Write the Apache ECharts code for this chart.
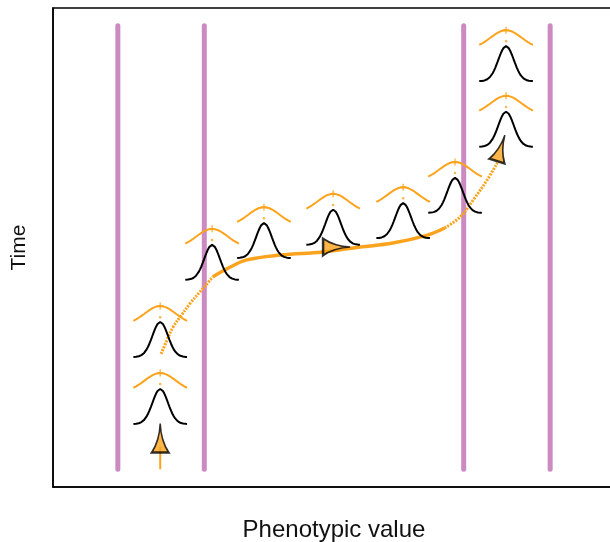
<!DOCTYPE html>
<html lang="en">
<head>
<meta charset="utf-8">
<title>Phenotype trajectory</title>
<script src="https://cdn.jsdelivr.net/npm/echarts@6/dist/echarts.min.js"></script>
<style>
  html, body { margin: 0; padding: 0; background: #fff; }
  #chart { width: 610px; height: 542px; }
</style>
</head>
<body>
<div id="chart"></div>
<script>
// fitness boundaries (purple) and their time span
var boundaryX = [1, 2, 5, 6];
var boundaryT = [0, 100];

// population snapshots: mean phenotype and time of each distribution
var popMean = [1.49, 1.49, 2.09, 2.69, 3.49, 4.30, 4.90, 5.49, 5.49];
var popTime = [10.2, 25.3, 42.7, 47.6, 50.6, 52.1, 57.8, 72.7, 87.5];

// trajectory of the mean (orange path)
var trajX = [1.50, 1.57, 1.64, 1.72, 1.84, 1.95, 2.10, 2.30, 2.49, 2.88, 3.37, 3.80, 4.18, 4.58, 4.78, 4.96, 5.11, 5.27, 5.39];
var trajT = [26.0, 29.2, 32.1, 34.3, 37.5, 40.0, 43.4, 45.6, 47.2, 48.3, 49.0, 50.1, 51.0, 52.8, 54.4, 56.9, 60.7, 65.2, 69.1];

// starting stalk under the first arrow
var stalkX = [1.49, 1.49];
var stalkT = [0, 5];

// arrow heads: centre, rotation (deg), size
var arrowX = [1.49, 3.53, 5.43];
var arrowT = [7.05, 50.1, 72.4];
var arrowAngle = [0, -90, -17];
var arrowSize = [[17, 29], [17, 27], [16, 27]];

var ORANGE = '#FBA31C';
var PURPLE = '#CC8AC3';

var SD = 0.09, HALF = 0.31, PEAK = 7.9;          // density curve
var FIT_SD = 0.18, FIT_BASE = 7.2, FIT_AMP = 4.3; // fitness arc
var DOT_UP = 9.0;

function curve(mu, t0, sd, base, amp) {
  var pts = [];
  for (var i = 0; i <= 40; i++) {
    var x = mu - HALF + 2 * HALF * i / 40;
    pts.push([x, t0 + base + amp * Math.exp(-(x - mu) * (x - mu) / (2 * sd * sd))]);
  }
  return pts;
}

var series = [];

boundaryX.forEach(function (bx) {
  series.push({
    type: 'line', data: [[bx, boundaryT[0]], [bx, boundaryT[1]]],
    symbol: 'none', silent: true, z: 1,
    lineStyle: { color: PURPLE, width: 5, cap: 'round' }
  });
});

popMean.forEach(function (mu, i) {
  series.push({
    type: 'line', data: curve(mu, popTime[i], SD, 0, PEAK),
    symbol: 'none', silent: true, z: 3,
    lineStyle: { color: '#000', width: 2 }
  });
  series.push({
    type: 'line', data: curve(mu, popTime[i], FIT_SD, FIT_BASE, FIT_AMP),
    symbol: 'none', silent: true, z: 3,
    lineStyle: { color: ORANGE, width: 2 }
  });
});

// optimum "+" marks and mean dots
series.push({
  type: 'scatter', z: 4, silent: true,
  symbol: 'path://M5,0 L5,10 M0,5 L10,5', symbolSize: [6, 7],
  itemStyle: { color: 'none', borderColor: ORANGE, borderWidth: 1.5 },
  data: popMean.map(function (mu, i) { return [mu, popTime[i] + FIT_BASE + FIT_AMP]; })
});
series.push({
  type: 'scatter', z: 4, silent: true, symbol: 'circle', symbolSize: 2.5,
  itemStyle: { color: ORANGE },
  data: popMean.map(function (mu, i) { return [mu, popTime[i] + DOT_UP]; })
});

function trajPart(a, b, dash, w) {
  var d = [];
  for (var i = a; i <= b; i++) d.push([trajX[i], trajT[i]]);
  return {
    type: 'line', data: d, smooth: 0.4, symbol: 'none', silent: true, z: 2,
    lineStyle: { color: ORANGE, width: w, type: dash }
  };
}
series.push(trajPart(0, 6, [2, 1.2], 3));
series.push(trajPart(6, 14, 'solid', 3.5));
series.push(trajPart(14, 18, [2, 1.2], 3));

series.push({
  type: 'line', data: stalkX.map(function (x, i) { return [x, stalkT[i]]; }),
  symbol: 'none', silent: true, z: 2,
  lineStyle: { color: ORANGE, width: 2 }
});

series.push({
  type: 'scatter', z: 6, silent: true,
  symbol: 'path://M10,0 Q11,18 20,30 L0,30 Q9,18 10,0 Z',
  itemStyle: { color: ORANGE, borderColor: '#000', borderWidth: 2 },
  data: arrowX.map(function (x, i) {
    return { value: [x, arrowT[i]], symbolRotate: arrowAngle[i], symbolSize: arrowSize[i] };
  })
});

var chart = echarts.init(document.getElementById('chart'));
chart.setOption({
  animation: false,
  backgroundColor: '#fff',
  grid: {
    left: 53, right: -5, top: 8, bottom: 55,
    outerBoundsMode: 'none',
    show: true, borderColor: '#000', borderWidth: 1.5
  },
  xAxis: {
    type: 'value', min: 0.25, max: 6.75,
    name: 'Phenotypic value', nameLocation: 'middle', nameGap: 31,
    nameTextStyle: { fontFamily: 'Liberation Sans', fontSize: 24, color: '#111' },
    axisLine: { show: true, onZero: false, lineStyle: { color: '#000', width: 1.5 } },
    axisTick: { show: false }, axisLabel: { show: false }, splitLine: { show: false }
  },
  yAxis: {
    type: 'value', min: -4, max: 104,
    name: 'Time', nameLocation: 'middle', nameGap: 23, nameRotate: 90,
    nameTextStyle: { fontFamily: 'Liberation Sans', fontSize: 21, color: '#111' },
    axisLine: { show: true, onZero: false, lineStyle: { color: '#000', width: 1.5 } },
    axisTick: { show: false }, axisLabel: { show: false }, splitLine: { show: false }
  },
  series: series
});
</script>
</body>
</html>
